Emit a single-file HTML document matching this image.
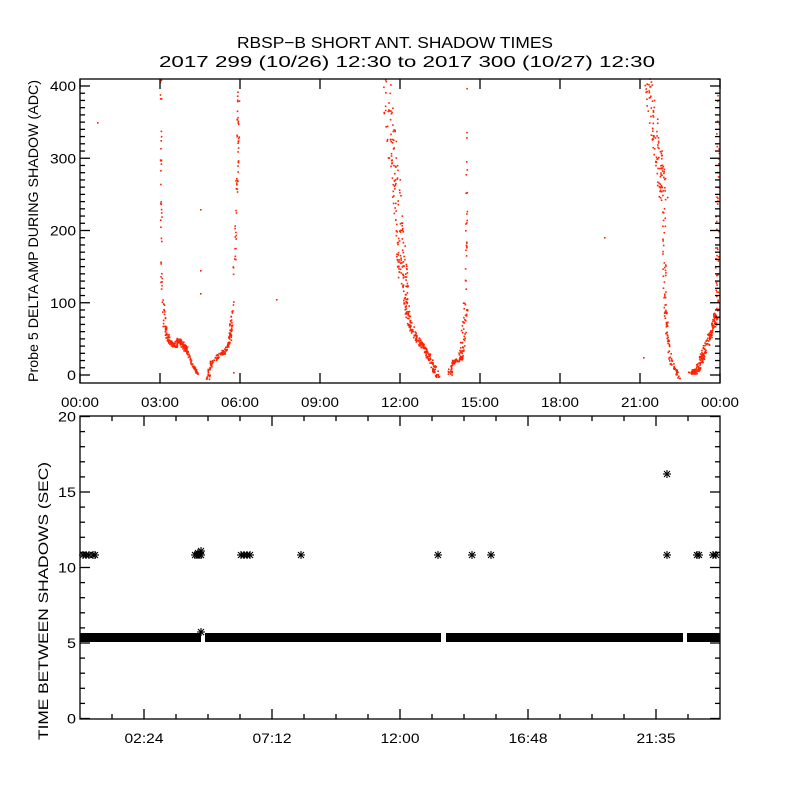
<!DOCTYPE html>
<html><head><meta charset="utf-8"><style>
html,body{margin:0;padding:0;background:#fff;}
svg{display:block;}
text{font-family:"Liberation Sans",sans-serif;fill:#000;}
</style></head><body>
<svg id="s" width="800" height="800" xmlns="http://www.w3.org/2000/svg">
<rect width="800" height="800" fill="#fff"/>
<text x="395" y="48" font-size="16" text-anchor="middle" textLength="316" lengthAdjust="spacingAndGlyphs">RBSP−B SHORT ANT. SHADOW TIMES</text>
<text x="407" y="67" font-size="16" text-anchor="middle" textLength="496" lengthAdjust="spacingAndGlyphs">2017 299 (10/26) 12:30 to 2017 300 (10/27) 12:30</text>
<g id="red" fill="#ff2200"></g>
<g id="blk" fill="#000"></g>
<g id="ax" stroke="#000" stroke-width="1.3" fill="none"></g>
<g id="lab" font-size="14"></g>
<text transform="translate(38,231) rotate(-90)" font-size="14" text-anchor="middle" textLength="302" lengthAdjust="spacingAndGlyphs">Probe 5 DELTA AMP DURING SHADOW (ADC)</text>
<text transform="translate(48,601) rotate(-90)" font-size="14" text-anchor="middle" textLength="278" lengthAdjust="spacingAndGlyphs">TIME BETWEEN SHADOWS (SEC)</text>
</svg>
<script>
var NS="http://www.w3.org/2000/svg";
function el(p,t,a,txt){var e=document.createElementNS(NS,t);for(var k in a)e.setAttribute(k,a[k]);if(txt!==undefined)e.textContent=txt;document.getElementById(p).appendChild(e);return e;}
var ax="ax";
function ln(x1,y1,x2,y2){el(ax,"line",{x1:x1,y1:y1,x2:x2,y2:y2});}
// top axes 80..720, 79..383
el(ax,"rect",{x:80,y:79,width:640,height:304});
function ty(v){return 375-v*0.7225;}
for(var v=0;v<=410;v+=10){var y=ty(v);if(y<79)break;var L=(v%100==0)?10:5;ln(80,y,80+L,y);ln(720,y,720-L,y);}
[0,100,200,300,400].forEach(function(v){el("lab","text",{x:76,y:ty(v)+5,"text-anchor":"end",textLength:v?26:9,lengthAdjust:"spacingAndGlyphs"},String(v));});
var tl=["00:00","03:00","06:00","09:00","12:00","15:00","18:00","21:00","00:00"];
for(var i=0;i<=8;i++){var x=80+80*i;ln(x,383,x,373);ln(x,79,x,89);el("lab","text",{x:x,y:407,"text-anchor":"middle",textLength:38,lengthAdjust:"spacingAndGlyphs"},tl[i]);}
// bottom axes 80..720, 416..719
el(ax,"rect",{x:80,y:416,width:640,height:303});
function by(v){return 718.5-v*15.1;}
for(var v=0;v<=20;v++){var y=by(v);var L=(v%5==0)?10:5;ln(80,y,80+L,y);ln(720,y,720-L,y);}
[0,5,10,15,20].forEach(function(v){el("lab","text",{x:76,y:by(v)+5,"text-anchor":"end",textLength:v>=10?18:9,lengthAdjust:"spacingAndGlyphs"},String(v));});
for(var x=112;x<720;x+=32){var mj=((x-144)%128==0);var L=mj?10:5;ln(x,719,x,719-L);ln(x,416,x,416+L);}
var bl=["02:24","07:12","12:00","16:48","21:35"];
for(var i=0;i<5;i++){el("lab","text",{x:144+128*i,y:743,"text-anchor":"middle",textLength:39,lengthAdjust:"spacingAndGlyphs"},bl[i]);}
// random
var seed=7;function r(){seed=(seed*16807)%2147483647;return (seed-1)/2147483646;}
function pt(x,y){el("red","rect",{x:x.toFixed(1),y:y.toFixed(1),width:1.6,height:1.6});}
function seg(pts,n,jx,jy){ // pts polyline
 for(var i=0;i<n;i++){var t=r()*(pts.length-1);var k=Math.floor(t),f=t-k;if(k>=pts.length-1){k=pts.length-2;f=1;}
 var x=pts[k][0]+(pts[k+1][0]-pts[k][0])*f,y=pts[k][1]+(pts[k+1][1]-pts[k][1])*f;
 pt(x+(r()-0.5)*jx,y+(r()-0.5)*jy);}}
// dip1
seg([[160,80],[160.5,200],[161,300]],35,1.5,2);
seg([[162,300],[164,325],[166,335]],30,3,3);
seg([[166,335],[170,342],[174,345],[178,340],[182,344],[186,350]],140,4,5);
seg([[186,350],[192,365],[197,373]],60,2,2);
seg([[207,378],[211,362],[218,355],[225,350],[229,340],[231,320]],130,3,4);
seg([[231,320],[234,260],[236,200],[237,150],[238,90]],60,2.5,3);
// dip2
seg([[385,80],[392,150],[397,200],[400,250],[404,290]],160,10,4);
seg([[404,290],[408,320],[414,335],[422,345],[430,360],[437,377]],200,5,4);
seg([[449,375],[452,362],[460,358],[463,335],[465,300]],110,5,3);
seg([[465,300],[466,200],[467,85]],25,1.5,3);
// dip3
seg([[648,80],[654,130],[660,170],[663,200]],110,9,4);
seg([[663,200],[664,290],[666,330],[670,360],[679,378]],110,3,3);
seg([[690,372],[696,370],[702,355],[708,338],[713,325],[716,310]],180,5,5);
seg([[716,310],[717,200],[718,80]],45,3,5);
[[97,122],[200,209],[200,270],[200,293],[233,372],[276,299],[604,237],[643,357]].forEach(function(p){pt(p[0],p[1]);});
// bottom band
el("blk","rect",{x:80,y:633,width:121,height:9});
el("blk","rect",{x:205,y:633,width:236,height:9});
el("blk","rect",{x:446,y:633,width:237,height:9});
el("blk","rect",{x:687,y:633,width:33,height:9});
function star(x,y){var g=el("blk","g",{stroke:"#000","stroke-width":"1.1"});var s=4;
 [[-s,0,s,0],[0,-s,0,s],[-3,-3,3,3],[-3,3,3,-3]].forEach(function(a){var l=document.createElementNS(NS,"line");l.setAttribute("x1",x+a[0]);l.setAttribute("y1",y+a[1]);l.setAttribute("x2",x+a[2]);l.setAttribute("y2",y+a[3]);g.appendChild(l);});}
[83,86,89,93,95,195,197,199,201,241,244,247,250,301,438,472,491,667,697,699,713,716].forEach(function(x){star(x,555);});
star(198,553);star(201,551);star(667,474);star(201,632);
</script>
</body></html>
